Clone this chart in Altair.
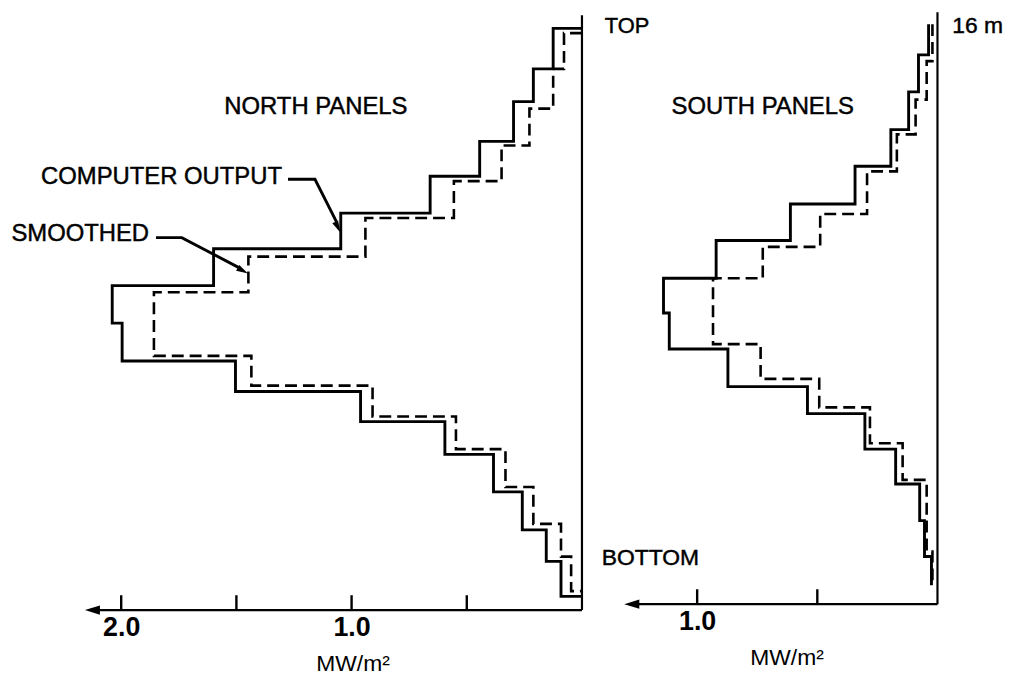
import altair as alt
import pandas as pd

# ---------------- data ----------------
# heights (m) of the step boundaries, top to bottom, and the heat flux (MW/m^2) of each step
north_out_bounds = [15.65, 14.56, 13.68, 12.61, 11.67, 10.68, 9.72, 8.73, 7.72, 6.70,
                    5.88, 5.07, 4.19, 3.18, 2.16, 1.31, 0.37]
north_out_vals = [0.125, 0.211, 0.297, 0.444, 0.659, 1.047, 1.599, 2.039, 1.996, 1.504,
                  0.961, 0.595, 0.384, 0.259, 0.155, 0.091]
north_sm_bounds = [15.52, 14.56, 13.49, 12.50, 11.54, 10.55, 9.51, 8.55, 6.84, 6.04,
                   5.21, 4.33, 3.31, 2.32, 1.44, 0.51]
north_sm_vals = [0.078, 0.125, 0.228, 0.349, 0.556, 0.940, 1.448, 1.858, 1.435, 0.909,
                 0.547, 0.332, 0.211, 0.091, 0.047]

south_out_bounds = [15.68, 14.85, 13.85, 12.83, 11.84, 10.82, 9.83, 8.81, 7.87, 6.90,
                    5.88, 5.15, 4.19, 3.25, 2.26, 1.29, 0.51]
south_out_vals = [0.037, 0.079, 0.120, 0.194, 0.343, 0.612, 0.921, 1.140, 1.116, 0.872,
                  0.541, 0.302, 0.174, 0.074, 0.054, 0.025]
south_sm_bounds = [15.68, 14.68, 13.64, 12.70, 11.70, 10.55, 9.66, 8.81, 7.03, 6.09,
                   5.32, 4.35, 3.36, 1.42, 0.56]
south_sm_vals = [0.021, 0.045, 0.091, 0.169, 0.293, 0.488, 0.727, 0.934, 0.736, 0.492,
                 0.281, 0.145, 0.045, 0.021]

north_ticks = [0.5, 1.0, 1.5, 2.0]
south_ticks = [0.5, 1.0]
north_labels = [1.0, 2.0]
south_labels = [1.0]
panel_top = 16.0
north_arrow_end = 2.125
south_arrow_end = 1.272

FONT = "Liberation Sans"
ARROW_LEFT = "M -1 0 L 1 -0.62 L 1 0.62 Z"
ARROW_UP = "M 0 -1 L 0.55 1 L -0.55 1 Z"


def step_frame(bounds, vals, join_top, join_bottom):
    pts = []
    if join_top:
        pts.append((0.0, bounds[0]))
    for i, v in enumerate(vals):
        pts.append((v, bounds[i]))
        pts.append((v, bounds[i + 1]))
    if join_bottom:
        pts.append((0.0, bounds[-1]))
    return pd.DataFrame({"v": [p[0] for p in pts], "m": [p[1] for p in pts],
                         "o": list(range(len(pts)))})


def panel(width, height, xdom, ydom, ticks, labels, title_x, arrow_end,
          out_df, sm_df, texts, leaders, heads):
    xs = alt.Scale(domain=xdom, reverse=True, nice=False, zero=False)
    ys = alt.Scale(domain=ydom, nice=False, zero=False)
    xaxis = alt.Axis(values=labels, format=".1f", domain=False, ticks=False, tickSize=0,
                     grid=False, labelFont=FONT, labelFontSize=27, labelColor="black",
                     labelFontWeight="bold", labelPadding=5, labelFlush=False,
                     title="MW/m²", titleFont=FONT, titleFontSize=23,
                     titleFontWeight="normal", titleColor="black",
                     titleX=title_x, titleY=54, titleBaseline="middle", titleAlign="center")

    def X(f):
        return alt.X(f, type="quantitative", scale=xs, axis=xaxis)

    def Y(f):
        return alt.Y(f, type="quantitative", scale=ys, axis=None)

    vline = alt.Chart(pd.DataFrame({"x": [0.0], "y": [0.0], "y2": [panel_top]})).mark_rule(
        color="black", strokeWidth=2.2).encode(x=X("x"), y=Y("y"), y2="y2")
    hline = alt.Chart(pd.DataFrame({"x": [0.0], "x2": [arrow_end], "y": [0.0]})).mark_rule(
        color="black", strokeWidth=2.4).encode(x=X("x"), x2="x2", y=Y("y"))
    tick = alt.Chart(pd.DataFrame({"x": ticks})).mark_rule(
        color="black", strokeWidth=2.4).encode(x=X("x"), y=alt.value(height - 15),
                                               y2=alt.value(height))
    head = alt.Chart(pd.DataFrame({"x": [arrow_end], "y": [0.0]})).mark_point(
        shape=ARROW_LEFT, size=230, filled=True, color="black", opacity=1,
        strokeWidth=0).encode(x=X("x"), y=Y("y"))
    out_line = alt.Chart(out_df).mark_line(color="black", strokeWidth=2.9,
                                           strokeJoin="miter").encode(
        x=X("v"), y=Y("m"), order="o:Q")
    sm_line = alt.Chart(sm_df).mark_line(color="black", strokeWidth=2.6,
                                         strokeDash=[12, 6]).encode(
        x=X("v"), y=Y("m"), order="o:Q")
    layers = [vline, hline, tick, head, out_line, sm_line]

    for t in texts:
        layers.append(alt.Chart(pd.DataFrame({"x": [t["x"]], "y": [t["y"]],
                                              "t": [t["text"]]})).mark_text(
            font=FONT, fontSize=t["size"], align=t["align"], baseline="middle",
            color="black", stroke="black", strokeWidth=0.45).encode(
            x=X("x"), y=Y("y"), text="t:N"))
    if leaders is not None:
        layers.append(alt.Chart(leaders).mark_line(color="black", strokeWidth=2.9).encode(
            x=X("v"), y=Y("m"), detail="g:N", order="o:Q"))
        layers.append(alt.Chart(heads).mark_point(
            shape=ARROW_UP, size=140, filled=True, color="black", opacity=1,
            strokeWidth=0).encode(x=X("v"), y=Y("m"), angle=alt.Angle("a:Q", scale=None)))
    return alt.layer(*layers).properties(width=width, height=height)


north_texts = [
    {"x": 1.155, "y": 13.54, "text": "NORTH PANELS", "size": 24, "align": "center"},
    {"x": 1.302, "y": 11.65, "text": "COMPUTER OUTPUT", "size": 24, "align": "right"},
    {"x": 1.879, "y": 10.12, "text": "SMOOTHED", "size": 24, "align": "right"},
]
north_leaders = pd.DataFrame({
    "g": ["co", "co", "co", "sm", "sm", "sm"],
    "o": [0, 1, 2, 0, 1, 2],
    "v": [1.276, 1.159, 1.066, 1.849, 1.737, 1.485],
    "m": [11.59, 11.59, 10.45, 10.02, 10.02, 9.20],
})
north_heads = pd.DataFrame({"v": [1.060, 1.472], "m": [10.30, 9.13], "a": [154.3, 118.3]})

south_texts = [
    {"x": 0.727, "y": 13.45, "text": "SOUTH PANELS", "size": 24, "align": "center"},
    {"x": 1.384, "y": 15.62, "text": "TOP", "size": 22, "align": "left"},
    {"x": 1.397, "y": 1.25, "text": "BOTTOM", "size": 23, "align": "left"},
    {"x": -0.062, "y": 15.62, "text": "16 m", "size": 23, "align": "left"},
]

north = panel(578, 604, [0, 2.4914], [0, 16.134], north_ticks, north_labels, 347,
              north_arrow_end,
              step_frame(north_out_bounds, north_out_vals, True, True),
              step_frame(north_sm_bounds, north_sm_vals, True, True),
              north_texts, north_leaders, north_heads)
south = panel(408, 598, [-0.2727, 1.4132], [0, 16.054], south_ticks, south_labels, 190,
              south_arrow_end,
              step_frame(south_out_bounds, south_out_vals, False, False),
              step_frame(south_sm_bounds, south_sm_vals, False, False),
              south_texts, None, None)

chart = alt.hconcat(north, south, spacing=10).properties(
    padding={"left": 0, "top": 0, "right": 0, "bottom": 0},
    background="white",
).configure_view(strokeWidth=0)

chart.save("out.html", embed_options={"renderer": "svg", "actions": False})
